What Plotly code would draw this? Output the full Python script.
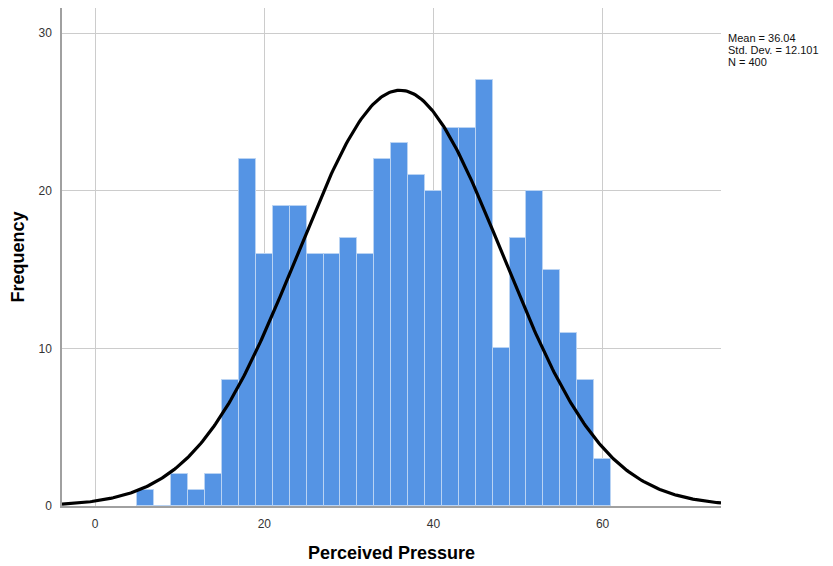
import numpy as np
import plotly.graph_objects as go

# Histogram data (bin centers, width 2)
bin_centers = [6, 8, 10, 12, 14, 16, 18, 20, 22, 24, 26, 28, 30, 32, 34, 36, 38,
               40, 42, 44, 46, 48, 50, 52, 54, 56, 58, 60]
frequencies = [1, 0, 2, 1, 2, 8, 22, 16, 19, 19, 16, 16, 17, 16, 22, 23, 21,
               20, 24, 24, 27, 10, 17, 20, 15, 11, 8, 3]
bin_width = 2
mean_val = 36.04
std_val = 12.101
n_val = 400
x_ticks = [0, 20, 40, 60]
y_ticks = [0, 10, 20, 30]
stat_lines = [f"Mean = {mean_val:.2f}", f"Std. Dev. = {std_val:.3f}", f"N = {n_val}"]

x_range = [-3.92, 74.0]
y_range = [0, 31.59]

# Fitted normal curve scaled to counts
xc = np.linspace(x_range[0], x_range[1], 400)
yc = n_val * bin_width / (std_val * np.sqrt(2 * np.pi)) * np.exp(-0.5 * ((xc - mean_val) / std_val) ** 2)

fig = go.Figure()
fig.add_trace(go.Bar(
    x=bin_centers, y=frequencies, width=bin_width,
    marker=dict(color="#5594e4", line=dict(color="#b9d3f3", width=1)),
    hoverinfo="x+y", showlegend=False,
))
fig.add_trace(go.Scatter(
    x=xc, y=yc, mode="lines",
    line=dict(color="#000000", width=3.2),
    hoverinfo="skip", showlegend=False,
))

annotations = []
for i, txt in enumerate(stat_lines):
    annotations.append(dict(
        xref="paper", yref="paper", x=1.0, y=1.0,
        xshift=6, yshift=-30 - 12 * i,
        xanchor="left", yanchor="middle", align="left", showarrow=False,
        borderpad=0,
        text=txt,
        font=dict(size=11, color="#111111", family="Liberation Sans, Arial, sans-serif"),
    ))

# the page body adds an 8px margin, so the figure is 8px smaller and margins compensate
fig.update_layout(
    width=825, height=558,
    margin=dict(l=53.5, r=112, t=0, b=60.3, autoexpand=False),
    paper_bgcolor="white", plot_bgcolor="white",
    font=dict(family="Liberation Sans, Arial, sans-serif", color="#333333", size=12),
    bargap=0,
    xaxis=dict(
        range=x_range, tickvals=x_ticks, ticktext=[str(v) for v in x_ticks],
        showgrid=True, gridcolor="#cccccc", gridwidth=1,
        zeroline=False, showline=True, linecolor="#a0a0a0", linewidth=1.5,
        ticks="", ticklabelstandoff=6,
        tickfont=dict(size=12, color="#333333"),
        title=dict(text="<b>Perceived Pressure</b>", font=dict(size=18, color="#000000"), standoff=16),
    ),
    yaxis=dict(
        range=y_range, tickvals=y_ticks, ticktext=[str(v) for v in y_ticks],
        showgrid=True, gridcolor="#cccccc", gridwidth=1,
        zeroline=False, showline=True, linecolor="#a0a0a0", linewidth=1.5,
        ticks="", ticklabelstandoff=6,
        tickfont=dict(size=12, color="#333333"),
        title=dict(text="<b>Frequency</b>", font=dict(size=18, color="#000000"), standoff=14),
    ),
    annotations=annotations,
)

fig.write_html("out.html")
